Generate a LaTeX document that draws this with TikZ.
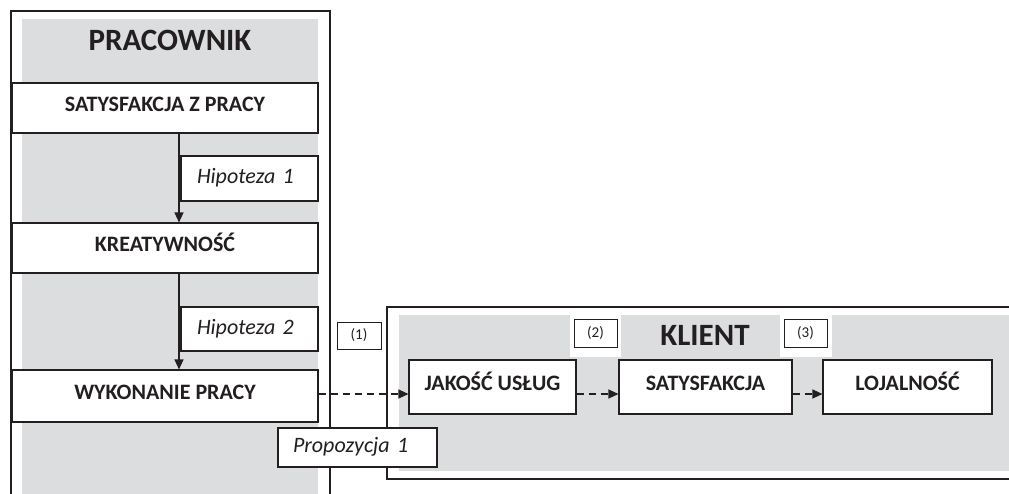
\documentclass[tikz,border=0pt]{standalone}
\usepackage{fontspec}
\setmainfont{Carlito}
\usetikzlibrary{arrows.meta}
\definecolor{panel}{HTML}{DCDDDF}
\definecolor{ink}{HTML}{231F20}
\tikzset{
  concept/.style={draw=ink, line width=1.1pt, fill=white, text=ink,
    font=\bfseries\fontsize{22}{26}\selectfont, inner sep=0pt,
    text height=14pt, text depth=7.5pt},
  hyp/.style={draw=ink, line width=1.1pt, fill=white, text=ink,
    font=\itshape\fontsize{22}{26}\selectfont, inner ysep=0pt, align=left,
    text height=14.5pt, text depth=4pt},
  tag/.style={draw=ink, line width=1pt, fill=white, text=ink,
    font=\fontsize{15}{17}\selectfont, inner sep=0pt},
  heading/.style={text=ink, font=\bfseries\fontsize{31}{36}\selectfont, inner sep=0pt},
  frame/.style={draw=ink, line width=1.3pt},
  solidarrow/.style={draw=ink, line width=1.1pt, -{Triangle[length=10pt,width=9pt]}},
  dasharrow/.style={solidarrow, dash pattern=on 7pt off 5pt},
}
\begin{document}
\begin{tikzpicture}[x=1pt,y=-1pt]
\useasboundingbox (0,0) rectangle (1009,493);
\clip (0,0) rectangle (1009,493);
% left panel
\fill[panel] (22,19) rectangle (318,510);
\draw[frame] (11,11) rectangle (330,510);
% right panel
\fill[panel] (399,315) rectangle (1030,471);
\fill[white] (570,315) rectangle (621,357);
\fill[white] (780,315) rectangle (832,357);
\draw[frame] (387,307) rectangle (1030,479);

\node[heading] (pracownik) at (170,40) {PRACOWNIK};
\node[heading] (klient) at (705,335) {KLIENT};

\node[concept, minimum width=306pt, minimum height=50pt] (sat) at (165,108) {SATYSFAKCJA Z PRACY};
\node[concept, minimum width=306pt, minimum height=50pt] (kre) at (165,248) {KREATYWNOŚĆ};
\node[concept, minimum width=306pt, minimum height=52pt] (wyk) at (165,396) {WYKONANIE PRACY};

\node[hyp, text width=105pt, inner xsep=16pt, minimum height=45pt] (hip1) at (249.5,178.5) {Hipoteza 1};
\node[hyp, text width=105pt, inner xsep=16pt, minimum height=44pt] (hip2) at (249.5,329) {Hipoteza 2};

\node[tag, minimum width=44pt, minimum height=27pt] (t1) at (359,335.5) {(1)};
\node[tag, minimum width=43pt, minimum height=28pt] (t2) at (595.5,333) {(2)};
\node[tag, minimum width=43pt, minimum height=28pt] (t3) at (805.5,333) {(3)};

\node[concept, minimum width=167pt, minimum height=54pt] (jak) at (492.5,387) {JAKOŚĆ USŁUG};
\node[concept, minimum width=173pt, minimum height=54pt] (sat2) at (705.5,387) {SATYSFAKCJA};
\node[concept, minimum width=169pt, minimum height=54pt] (loj) at (907.5,387) {LOJALNOŚĆ};

\coordinate (ax) at (179,0);
\coordinate (ay) at (0,394);
\draw[solidarrow] (sat.south -| ax) -- (kre.north -| ax);
\draw[solidarrow] (kre.south -| ax) -- (wyk.north -| ax);
\draw[dasharrow] (wyk.east |- ay) -- (jak.west |- ay);
\draw[dasharrow] (jak.east |- ay) -- (sat2.west |- ay);
\draw[dasharrow] (sat2.east |- ay) -- (loj.west |- ay);

\node[hyp, text width=129pt, inner xsep=15pt, minimum height=39pt] (prop) at (357.5,447.5) {Propozycja 1};
\end{tikzpicture}
\end{document}
